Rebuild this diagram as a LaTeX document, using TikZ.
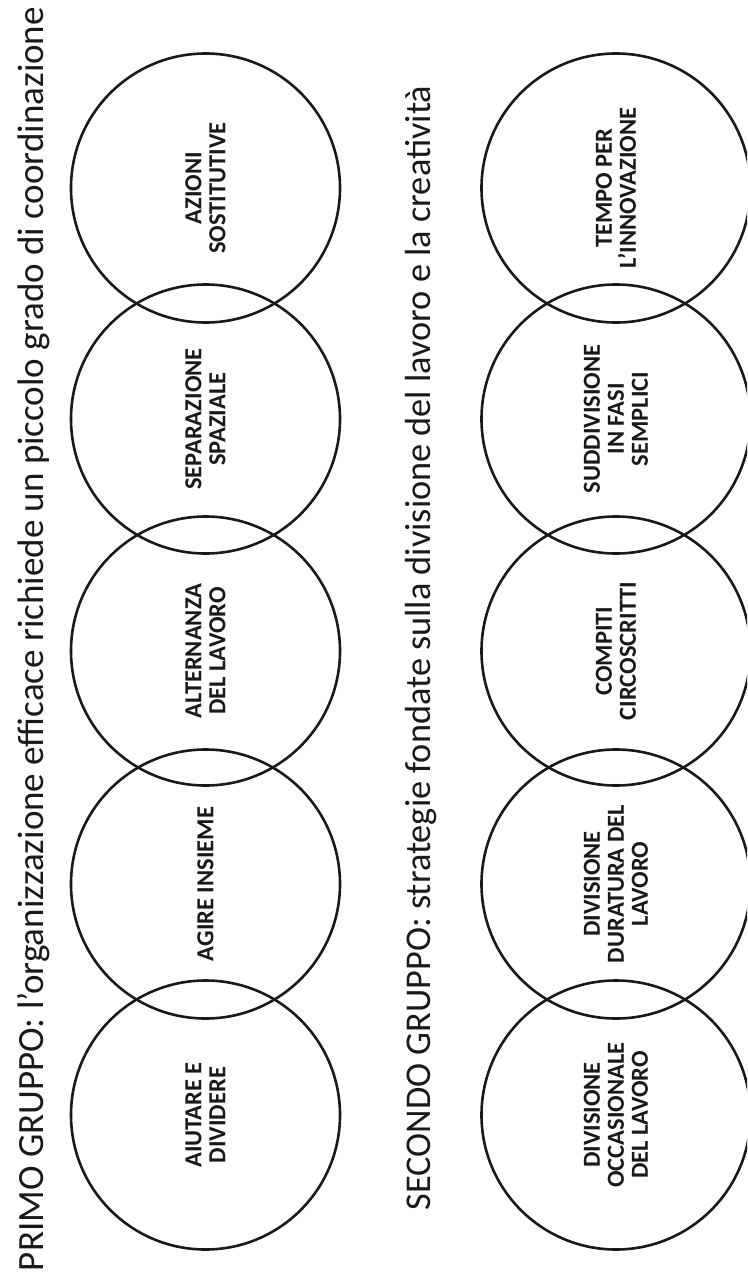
\documentclass[tikz,border=0pt]{standalone}
\usepackage{fontspec}
\setmainfont{Carlito}
\begin{document}
\begin{tikzpicture}[x=1pt,y=-1pt,
  ring/.style={circle,draw=black!90,line width=2.6pt,minimum size=269pt,inner sep=0pt,
    rotate=90,align=center,font=\fontsize{24.5}{24}\selectfont\bfseries,text=black!90},
  heading/.style={rotate=90,anchor=base,inner sep=0pt,
    font=\fontsize{37}{40}\selectfont,text=black!90}]
\useasboundingbox (0,0) rectangle (747,1277);
\clip (0,0) rectangle (747,1277);
\fill[white] (0,0) rectangle (747,1277);

% headings, read from bottom to top
\node[heading] (t1) at (43,639) {PRIMO GRUPPO: l’organizzazione efficace richiede un piccolo grado di coordinazione};
\node[heading,font=\fontsize{36.3}{40}\selectfont] (t2) at (430,648) {SECONDO GRUPPO: strategie fondate sulla divisione del lavoro e la creatività};

% first group
\node[ring] (a1) at (205.5,1115) {AIUTARE E\\DIVIDERE};
\node[ring] (a2) at (205.5,884) {AGIRE INSIEME};
\node[ring] (a3) at (205.5,651) {ALTERNANZA\\DEL LAVORO};
\node[ring] (a4) at (205.5,419) {SEPARAZIONE\\SPAZIALE};
\node[ring] (a5) at (205.5,188) {AZIONI\\SOSTITUTIVE};

% second group
\node[ring] (b1) at (616,1115) {DIVISIONE\\OCCASIONALE\\DEL LAVORO};
\node[ring] (b2) at (616,884) {DIVISIONE\\DURATURA DEL\\LAVORO};
\node[ring] (b3) at (616,651) {COMPITI\\CIRCOSCRITTI};
\node[ring] (b4) at (616,419) {SUDDIVISIONE\\IN FASI\\SEMPLICI};
\node[ring] (b5) at (616,188) {TEMPO PER\\L’INNOVAZIONE};
\end{tikzpicture}
\end{document}
